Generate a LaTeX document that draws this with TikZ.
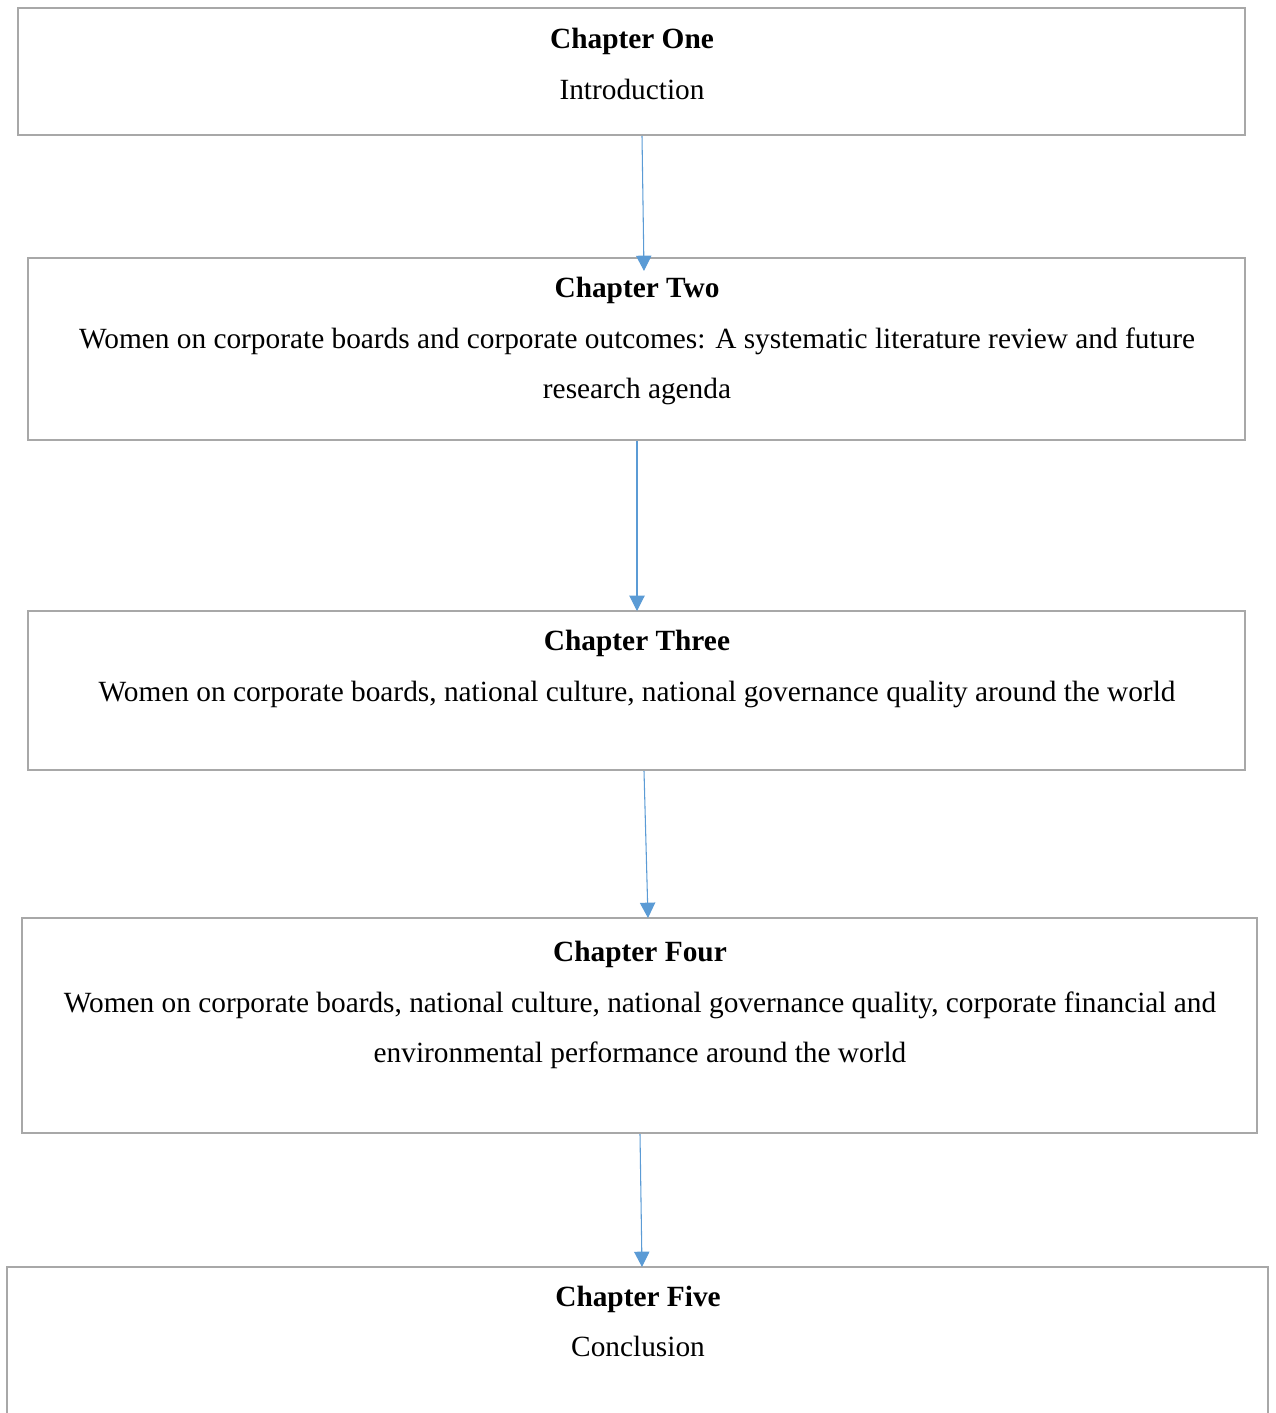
\documentclass[tikz,border=0pt]{standalone}
\usepackage{fontspec}
\setmainfont{Liberation Serif}
\usetikzlibrary{arrows.meta}
\definecolor{boxgray}{RGB}{168,168,168}
\definecolor{arrblue}{RGB}{91,155,213}
\begin{document}
\begin{tikzpicture}[x=0.75pt,y=-0.75pt,
  chbox/.style={draw=boxgray,line width=1.8pt},
  txt/.style={inner sep=0pt,font=\fontsize{22}{26}\selectfont},
  ttl/.style={inner sep=0pt,font=\fontsize{22}{26}\selectfont\bfseries},
  conn/.style={draw=arrblue,line width=0.8pt,-{Triangle[length=11.5pt,width=11.5pt]}}]
\useasboundingbox (0,0) rectangle (1275,1413);
\begin{scope}
\clip (0,0) rectangle (1275,1413);
\draw[chbox] (18,8) rectangle (1245,135);
\draw[chbox] (28,258) rectangle (1245,440);
\draw[chbox] (28,611) rectangle (1245,770);
\draw[chbox] (22,918) rectangle (1257,1133);
\draw[chbox] (7,1267) rectangle (1268,1440);
\end{scope}
\coordinate (a1s) at (642,136); \coordinate (a1e) at (644,271);
\coordinate (a2s) at (637,441); \coordinate (a2e) at (637,611);
\coordinate (a3s) at (644,771); \coordinate (a3e) at (648,918);
\coordinate (a4s) at (640,1134); \coordinate (a4e) at (642,1267);
\draw[conn] (a1s) -- (a1e);
\draw[conn] (a2s) -- (a2e);
\draw[conn] (a3s) -- (a3e);
\draw[conn] (a4s) -- (a4e);
\node[ttl,anchor=base] (t1) at (632,49) {Chapter One};
\node[txt,anchor=base] (s1) at (632,99) {Introduction};
\node[ttl,anchor=base] (t2) at (637,297) {Chapter Two};
\node[txt,anchor=base] (s2a) at (637,348) {Women on corporate boards and corporate outcomes: A systematic literature review and future};
\node[txt,anchor=base] (s2b) at (637,398) {research agenda};
\node[ttl,anchor=base] (t3) at (637,650) {Chapter Three};
\node[txt,anchor=base] (s3) at (637,701) {Women on corporate boards, national culture, national governance quality around the world};
\node[ttl,anchor=base] (t4) at (640,961) {Chapter Four};
\node[txt,anchor=base] (s4a) at (640,1012) {Women on corporate boards, national culture, national governance quality, corporate financial and};
\node[txt,anchor=base] (s4b) at (640,1062) {environmental performance around the world};
\node[ttl,anchor=base] (t5) at (638,1306) {Chapter Five};
\node[txt,anchor=base] (s5) at (638,1356) {Conclusion};
\end{tikzpicture}
\end{document}
